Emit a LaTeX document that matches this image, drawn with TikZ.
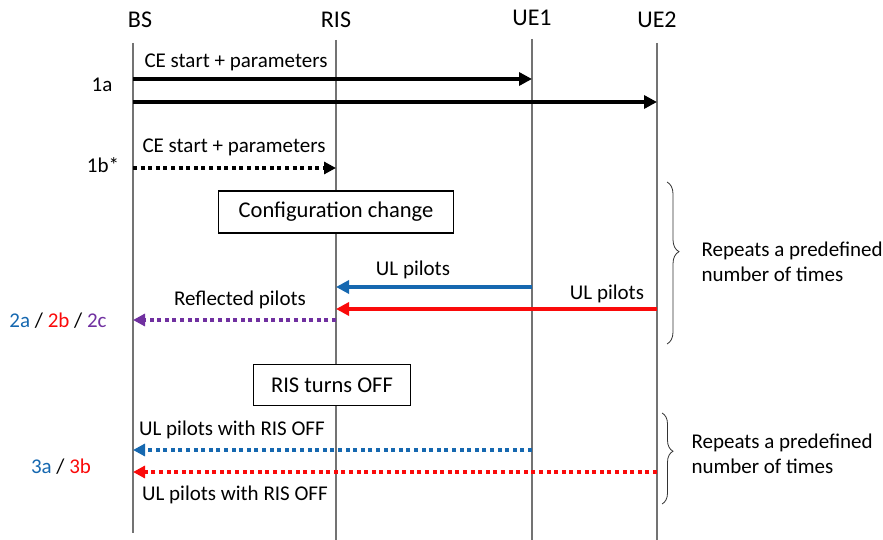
\documentclass[tikz,border=0pt]{standalone}
\usepackage{fontspec}
\setmainfont{Carlito}
\usetikzlibrary{arrows.meta,decorations.pathreplacing}
\definecolor{ulblue}{RGB}{22,104,176}
\definecolor{ulred}{RGB}{250,10,10}
\definecolor{ulpurple}{RGB}{112,48,160}
\begin{document}
\begin{tikzpicture}[x=1pt,y=-1pt,
    lifeline/.style={draw=gray!90!black, line width=1.1pt},
    head/.style={font=\fontsize{24}{28}\selectfont},
    lbl/.style={font=\fontsize{21}{25}\selectfont},
    msg/.style={line width=3.6pt, -{Triangle[length=13pt,width=13pt]}},
    dotmsg/.style={line width=3.8pt, dash pattern=on 4pt off 3.6pt, -{Triangle[length=12pt,width=12pt]}},
    stepbox/.style={draw, fill=white, line width=1.2pt, font=\fontsize{22.5}{26}\selectfont},
    rep/.style={draw=black!80, line width=0.8pt, decorate}]
    \useasboundingbox (0,0) rectangle (883,540);

    % lifelines
    \coordinate (bsTop) at (133,43);  \coordinate (bsBot) at (133,533);
    \coordinate (risTop) at (336,40); \coordinate (risBot) at (336,540);
    \coordinate (ue1Top) at (532,39); \coordinate (ue1Bot) at (532,540);
    \coordinate (ue2Top) at (657,43); \coordinate (ue2Bot) at (657,540);
    \draw [lifeline] (bsTop) -- (bsBot);
    \draw [lifeline] (risTop) -- (risBot);
    \draw [lifeline] (ue1Top) -- (ue1Bot);
    \draw [lifeline] (ue2Top) -- (ue2Bot);

    % headers
    \node [head] (bs) at (140,20) {BS};
    \node [head] (ris) at (336,20) {RIS};
    \node [head] (ue1) at (532,18) {UE1};
    \node [head] (ue2) at (657,20) {UE2};

    % step 1a
    \coordinate (bs1) at (133,79);  \coordinate (ue1a) at (532,79);
    \coordinate (bs2) at (133,102); \coordinate (ue2a) at (657,102);
    \draw [msg] (bs1) -- (ue1a);
    \draw [msg] (bs2) -- (ue2a);
    \node [lbl] (ce1) at (236,62) {CE start + parameters};
    \node [lbl] (s1a) at (102,85) {1a};

    % step 1b*
    \coordinate (bs3) at (133,168); \coordinate (ris1) at (336,168);
    \draw [dotmsg] (bs3) -- (ris1);
    \node [lbl] (ce2) at (234,147) {CE start + parameters};
    \node [lbl] (s1b) at (103,165) {1b*};

    % configuration change
    \node [stepbox, minimum width=235pt, minimum height=42pt] (cfg) at (336,212) {Configuration change};

    % step 2
    \coordinate (ue1b) at (532,287); \coordinate (ris2) at (336,287);
    \coordinate (ue2b) at (657,309); \coordinate (ris3) at (336,309);
    \coordinate (ris4) at (336,320); \coordinate (bs4) at (133,320);
    \draw [msg, ulblue] (ue1b) -- (ris2);
    \draw [msg, ulred] (ue2b) -- (ris3);
    \draw [dotmsg, ulpurple] (ris4) -- (bs4);
    \node [lbl] (ul1) at (413,270) {UL pilots};
    \node [lbl] (ul2) at (607,294) {UL pilots};
    \node [lbl] (refl) at (240,300) {Reflected pilots};
    \node [lbl] (s2) at (58,321) {\textcolor{ulblue}{2a} / \textcolor{ulred}{2b} / \textcolor{ulpurple}{2c}};

    % repeats 1
    \coordinate (br1a) at (667,182); \coordinate (br1b) at (667,344);
    \draw [rep, decoration={brace, amplitude=12pt, aspect=0.43}] (br1a) -- (br1b);
    \node [lbl, anchor=west, align=left] (rep1) at (698,262) {Repeats a predefined\\number of times};

    % RIS off
    \node [stepbox, minimum width=157pt, minimum height=41pt] (off) at (332,385) {RIS turns OFF};

    % step 3
    \coordinate (ue1c) at (532,450); \coordinate (bs5) at (133,450);
    \coordinate (ue2c) at (657,472); \coordinate (bs6) at (133,472);
    \draw [dotmsg, ulblue] (ue1c) -- (bs5);
    \draw [dotmsg, ulred] (ue2c) -- (bs6);
    \node [lbl] (off1) at (232,430) {UL pilots with RIS OFF};
    \node [lbl] (off2) at (235,495) {UL pilots with RIS OFF};
    \node [lbl] (s3) at (61,467) {\textcolor{ulblue}{3a} / \textcolor{ulred}{3b}};

    % repeats 2
    \coordinate (br2a) at (662,413); \coordinate (br2b) at (662,504);
    \draw [rep, decoration={brace, amplitude=11pt, aspect=0.42}] (br2a) -- (br2b);
    \node [lbl, anchor=west, align=left] (rep2) at (688,454) {Repeats a predefined\\number of times};
\end{tikzpicture}
\end{document}
